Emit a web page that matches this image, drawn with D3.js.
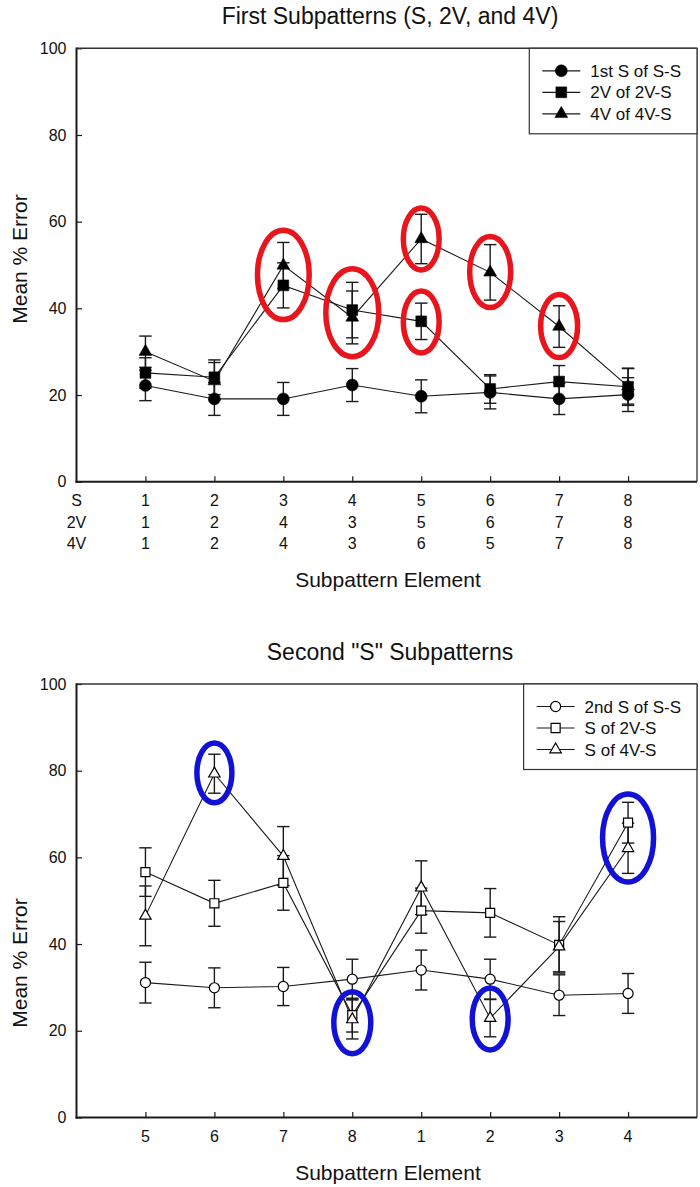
<!DOCTYPE html>
<html>
<head>
<meta charset="utf-8">
<script src="https://cdn.jsdelivr.net/npm/d3@7"></script>
<style>
  html, body { margin: 0; padding: 0; background: #fff; }
  svg text { font-family: "Liberation Sans", Arial, Helvetica, sans-serif; fill: #111; }
</style>
</head>
<body>
<svg id="chart" width="700" height="1187"></svg>
<script>
// ---------------- DATA ----------------
const positions = [1, 2, 3, 4, 5, 6, 7, 8];
const yTickValues = [0, 20, 40, 60, 80, 100];

// Top chart
const topTitle = "First Subpatterns (S, 2V, and 4V)";
const topRowHeaders = ["S", "2V", "4V"];
const topRowS  = [1, 2, 3, 4, 5, 6, 7, 8];
const topRow2V = [1, 2, 4, 3, 5, 6, 7, 8];
const topRow4V = [1, 2, 4, 3, 6, 5, 7, 8];
const topSeriesNames = ["1st S of S-S", "2V of 2V-S", "4V of 4V-S"];
const topCircle     = [22.2, 19.1, 19.1, 22.3, 19.7, 20.6, 19.1, 20.1];
const topCircleErr  = [3.5, 3.8, 3.8, 3.8, 3.8, 3.8, 3.6, 3.9];
const topSquare     = [25.1, 24.1, 45.3, 39.6, 37.0, 21.4, 23.1, 21.9];
const topSquareErr  = [3.5, 4.0, 5.2, 6.4, 4.2, 3.3, 3.7, 4.3];
const topTriangle   = [30.0, 23.2, 49.9, 37.9, 56.0, 48.3, 35.8, 22.0];
const topTriangleErr= [3.6, 4.3, 5.3, 6.1, 5.7, 6.4, 4.8, 4.1];
// highlight ellipses: [position, centre value, x half-width (positions), y half-height (value units)]
const topHighlights = [
  [3, 47.7, 0.375, 10.3],
  [4, 39.0, 0.384, 10.15],
  [5, 56.0, 0.26, 7.15],
  [5, 36.85, 0.26, 7.15],
  [6, 48.4, 0.297, 8.2],
  [7, 35.9, 0.268, 7.27]
];

// Bottom chart
const bottomTitle = "Second \"S\" Subpatterns";
const bottomTickLabels = ["5", "6", "7", "8", "1", "2", "3", "4"];
const bottomSeriesNames = ["2nd S of S-S", "S of 2V-S", "S of 4V-S"];
const botCircle      = [31.1, 29.9, 30.2, 31.9, 34.0, 31.9, 28.2, 28.6];
const botCircleErr   = [4.7, 4.6, 4.4, 4.6, 4.6, 4.6, 4.7, 4.6];
const botSquare      = [56.6, 49.4, 54.1, 23.6, 47.7, 47.2, 39.8, 68.0];
const botSquareErr   = [5.6, 5.3, 6.3, 3.9, 5.2, 5.6, 6.5, 4.7];
const botTriangle    = [46.5, 79.3, 60.3, 22.6, 53.0, 22.9, 39.4, 62.1];
const botTriangleErr = [6.9, 4.5, 6.8, 4.5, 6.2, 4.3, 5.8, 5.8];
const bottomHighlights = [
  [2, 79.5, 0.254, 6.9],
  [4, 21.85, 0.268, 7.15],
  [6, 22.7, 0.26, 7.15],
  [8, 64.45, 0.37, 10.15]
];

const yAxisTitle = "Mean % Error";
const xAxisTitle = "Subpattern Element";

// ---------------- LAYOUT ----------------
const svg = d3.select("#chart");
const FONT_TICK = 16, FONT_LEG = 17, FONT_AX = 21, FONT_TITLE = 23;
const plotLeft = 76.5, plotRight = 697;
const x = d3.scaleLinear().domain([0, 9]).range([plotLeft, plotRight]);

const ink = "#1a1a1a";

function symbolPath(kind, filled) {
  const sizes = filled ? { circle: 113, square: 118, triangle: 72 } : { circle: 80, square: 82, triangle: 56 };
  const type = kind === "circle" ? d3.symbolCircle : kind === "square" ? d3.symbolSquare : d3.symbolTriangle;
  return d3.symbol().type(type).size(sizes[kind])();
}

function drawPanel(cfg) {
  const y = d3.scaleLinear().domain([0, 100]).range([cfg.yBottom, cfg.yTop]);
  const g = svg.append("g");

  // title
  g.append("text").attr("x", 390).attr("y", cfg.titleBaseline)
    .attr("text-anchor", "middle").style("font-size", FONT_TITLE + "px").text(cfg.title);

  // y axis ticks + labels
  const yAxis = d3.axisLeft(y).tickValues(yTickValues).tickSizeInner(-5.5).tickSizeOuter(0).tickPadding(10)
    .tickFormat(d3.format("d"));
  const ya = g.append("g").attr("transform", `translate(${plotLeft},0)`).call(yAxis);
  ya.select(".domain").remove();
  ya.selectAll(".tick line").attr("stroke", ink).attr("stroke-width", 1.2);
  ya.selectAll(".tick text").style("font-size", FONT_TICK + "px").style("font-family", "Liberation Sans, Arial, sans-serif").attr("fill", "#111");

  // x axis ticks
  const xAxis = d3.axisBottom(x).tickValues(positions).tickSizeInner(-5.5).tickSizeOuter(0).tickFormat("");
  const xa = g.append("g").attr("transform", `translate(0,${cfg.yBottom})`).call(xAxis);
  xa.select(".domain").remove();
  xa.selectAll(".tick line").attr("stroke", ink).attr("stroke-width", 1.2);

  // frame
  g.append("line").attr("x1", plotLeft).attr("x2", plotRight).attr("y1", cfg.yTop).attr("y2", cfg.yTop)
    .attr("stroke", "#333").attr("stroke-width", 1.6);
  g.append("line").attr("x1", plotRight).attr("x2", plotRight).attr("y1", cfg.yTop).attr("y2", cfg.yBottom)
    .attr("stroke", "#333").attr("stroke-width", 1.3);
  g.append("line").attr("x1", plotLeft).attr("x2", plotLeft).attr("y1", cfg.yTop - 0.8).attr("y2", cfg.yBottom + 1)
    .attr("stroke", ink).attr("stroke-width", 2);
  g.append("line").attr("x1", plotLeft - 1).attr("x2", plotRight).attr("y1", cfg.yBottom).attr("y2", cfg.yBottom)
    .attr("stroke", ink).attr("stroke-width", 2);

  // x tick label rows
  cfg.rows.forEach((row, ri) => {
    const cy = cfg.yBottom + cfg.rowFirst + ri * 21.7;
    if (row.header) {
      g.append("text").attr("x", plotLeft).attr("y", cy + FONT_TICK * 0.36)
        .attr("text-anchor", "middle").style("font-size", FONT_TICK + "px").text(row.header);
    }
    g.selectAll(null).data(row.labels).enter().append("text")
      .attr("x", (d, i) => x(positions[i])).attr("y", cy + FONT_TICK * 0.36)
      .attr("text-anchor", "middle").style("font-size", FONT_TICK + "px").text(d => d);
  });

  // axis titles
  g.append("text").attr("x", 388).attr("y", cfg.xTitleBaseline).attr("text-anchor", "middle")
    .style("font-size", FONT_AX + "px").text(xAxisTitle);
  g.append("text").attr("transform", `translate(26.5,${cfg.yTitleCenter}) rotate(-90)`).attr("text-anchor", "middle")
    .style("font-size", FONT_AX + "px").text(yAxisTitle);

  // series
  const line = d3.line().x((d, i) => x(positions[i])).y(d => y(d));
  cfg.series.forEach(s => {
    g.append("path").datum(s.values).attr("d", line).attr("fill", "none").attr("stroke", ink).attr("stroke-width", 1.1);
  });
  cfg.series.forEach(s => {
    const eb = g.append("g").attr("stroke", ink).attr("stroke-width", 1.4);
    s.values.forEach((v, i) => {
      const px = x(positions[i]);
      const lo = y(v - s.err[i]), hi = y(v + s.err[i]);
      eb.append("line").attr("x1", px).attr("x2", px).attr("y1", lo).attr("y2", hi);
      eb.append("line").attr("x1", px - 6.2).attr("x2", px + 6.2).attr("y1", lo).attr("y2", lo);
      eb.append("line").attr("x1", px - 6.2).attr("x2", px + 6.2).attr("y1", hi).attr("y2", hi);
    });
  });
  cfg.series.forEach(s => {
    g.selectAll(null).data(s.values).enter().append("path")
      .attr("d", symbolPath(s.kind, cfg.filled))
      .attr("transform", (d, i) => `translate(${x(positions[i])},${y(d)})`)
      .attr("fill", cfg.filled ? "#000" : "#fff")
      .attr("stroke", "#000").attr("stroke-width", cfg.filled ? 0.5 : 1.2);
  });

  // legend
  const lg = g.append("g");
  const texts = cfg.series.map((s, i) => {
    return lg.append("text").attr("y", cfg.yTop + 22.5 + i * 21.5 + FONT_LEG * 0.36)
      .style("font-size", FONT_LEG + "px").text(s.name);
  });
  const tw = d3.max(texts, t => t.node().getComputedTextLength());
  const textX = plotRight - 16 - tw;
  const lineX0 = textX - 10 - 38;
  const boxLeft = lineX0 - 13;
  const boxBottom = cfg.yTop + 22.5 + 2 * 21.5 + 20;
  lg.insert("rect", ":first-child").attr("x", boxLeft).attr("y", cfg.yTop).attr("width", plotRight - boxLeft)
    .attr("height", boxBottom - cfg.yTop).attr("fill", "#fff").attr("stroke", "#333").attr("stroke-width", 1.2);
  texts.forEach(t => t.attr("x", textX));
  cfg.series.forEach((s, i) => {
    const cy = cfg.yTop + 22.5 + i * 21.5;
    lg.append("line").attr("x1", lineX0).attr("x2", lineX0 + 38).attr("y1", cy).attr("y2", cy)
      .attr("stroke", ink).attr("stroke-width", 1.2);
    lg.append("path").attr("d", symbolPath(s.kind, cfg.filled)).attr("transform", `translate(${lineX0 + 19},${cy})`)
      .attr("fill", cfg.filled ? "#000" : "#fff").attr("stroke", "#000").attr("stroke-width", cfg.filled ? 0.5 : 1.2);
  });

  // highlight ellipses
  const pxPerPos = x(1) - x(0);
  g.selectAll(null).data(cfg.highlights).enter().append("ellipse")
    .attr("cx", d => x(d[0])).attr("cy", d => y(d[1]))
    .attr("rx", d => d[2] * pxPerPos).attr("ry", d => y(0) - y(d[3]))
    .attr("fill", "none").attr("stroke", cfg.hlColor).attr("stroke-width", 5.5);
}

drawPanel({
  title: topTitle, titleBaseline: 24,
  yTop: 48.3, yBottom: 481.7,
  rowFirst: 18.5,
  rows: [
    { header: topRowHeaders[0], labels: topRowS },
    { header: topRowHeaders[1], labels: topRow2V },
    { header: topRowHeaders[2], labels: topRow4V }
  ],
  xTitleBaseline: 587, yTitleCenter: 259,
  filled: true,
  series: [
    { name: topSeriesNames[0], kind: "circle", values: topCircle, err: topCircleErr },
    { name: topSeriesNames[1], kind: "square", values: topSquare, err: topSquareErr },
    { name: topSeriesNames[2], kind: "triangle", values: topTriangle, err: topTriangleErr }
  ],
  highlights: topHighlights, hlColor: "#e8161c"
});

drawPanel({
  title: bottomTitle, titleBaseline: 660,
  yTop: 684, yBottom: 1117.4,
  rowFirst: 19.3,
  rows: [ { header: null, labels: bottomTickLabels } ],
  xTitleBaseline: 1180, yTitleCenter: 963,
  filled: false,
  series: [
    { name: bottomSeriesNames[0], kind: "circle", values: botCircle, err: botCircleErr },
    { name: bottomSeriesNames[1], kind: "square", values: botSquare, err: botSquareErr },
    { name: bottomSeriesNames[2], kind: "triangle", values: botTriangle, err: botTriangleErr }
  ],
  highlights: bottomHighlights, hlColor: "#1212d6"
});
</script>
</body>
</html>
